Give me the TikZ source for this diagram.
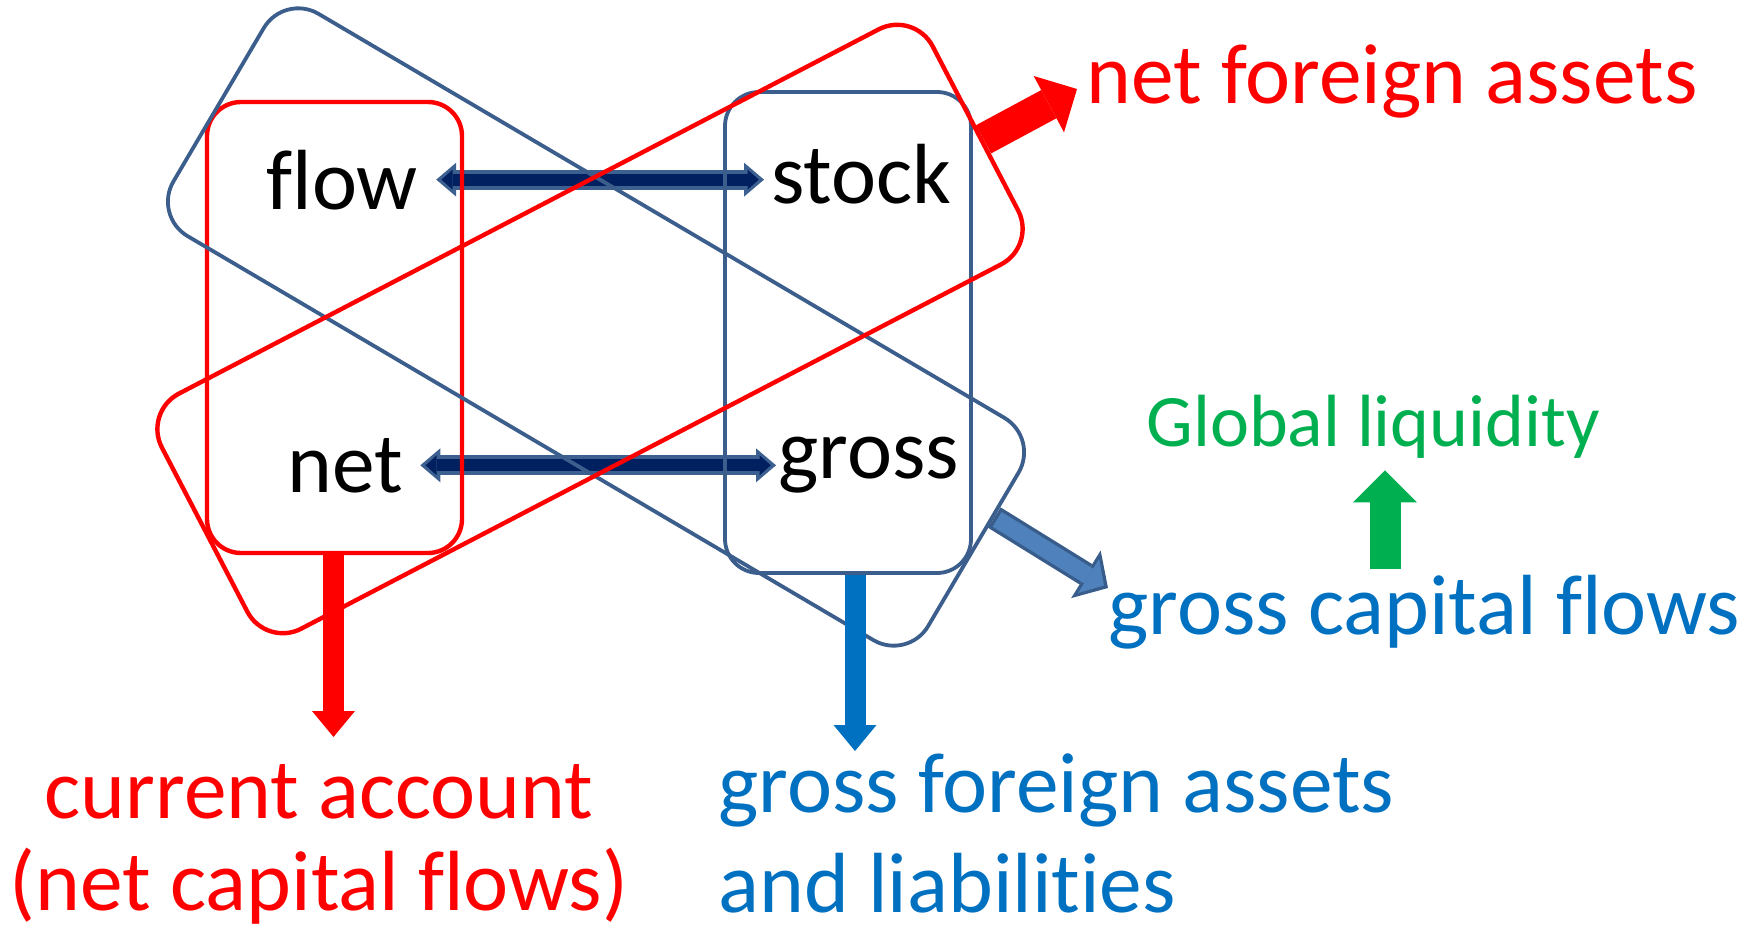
\documentclass[tikz,border=0pt]{standalone}
\usepackage{fontspec}
\setmainfont{Carlito}[Ligatures=NoCommon]
\usetikzlibrary{arrows.meta,calc}

\definecolor{boxred}{RGB}{255,0,0}
\definecolor{boxblue}{RGB}{59,94,140}
\definecolor{navy}{RGB}{0,32,96}
\definecolor{dblline}{RGB}{60,96,144}
\definecolor{txtblue}{RGB}{0,112,192}
\definecolor{liqgreen}{RGB}{0,176,80}
\definecolor{gcffill}{RGB}{79,129,189}
\definecolor{gcfline}{RGB}{56,93,138}

\begin{document}
\begin{tikzpicture}[x=0.5pt,y=0.5pt,
  colbox/.style={draw,rounded corners=17pt,inner sep=0pt},
  diagbox/.style={draw,rounded corners=20pt,inner sep=0pt},
  word/.style={anchor=base west,inner sep=0pt,font=\fontsize{42.7}{46}\selectfont},
  dblout/.style={dblline,line width=10pt,
    arrows={Triangle[length=10pt,width=17pt,line width=0pt]-Triangle[length=10pt,width=17pt,line width=0pt]}},
  dblin/.style={navy,line width=6pt,shorten <=2.6pt,shorten >=2.6pt,
    arrows={Triangle[length=5.6pt,width=10pt,line width=0pt]-Triangle[length=5.6pt,width=10pt,line width=0pt]}},
  downarrow/.style={line width=10.5pt,-{Triangle[length=13pt,width=21.5pt,line width=0pt]}},
  fatarrow/.style={line width=16pt,-{Triangle[length=16pt,width=32pt,line width=0pt]}}]

  \useasboundingbox (0,0) rectangle (1750,-931);

  % words in the boxes
  \node[word] (flow) at (266,-209) {flow};
  \node[word] (stock) at (771,-203.5) {stock};
  \node[word] (net) at (287,-492) {net};
  \node[word] (gross) at (778,-478) {gross};

  % flow <-> stock, net <-> gross
  \coordinate (fl) at ($(flow.east)+(9pt,0)$);
  \coordinate (st) at ($(flow.east -| stock.west)+(-3.5pt,0)$);
  \coordinate (nt) at ($(net.east)+(8.5pt,0)$);
  \coordinate (gr) at ($(net.east -| gross.west)+(-1pt,0)$);
  \draw[dblout] (fl) -- (st);
  \draw[dblin] (fl) -- (st);
  \draw[dblout] (nt) -- (gr);
  \draw[dblin] (nt) -- (gr);

  % the four boxes
  \node[colbox,draw=boxred,line width=2.2pt,minimum width=127.5pt,minimum height=225.5pt] (colR) at (334.5,-327.5) {};
  \node[colbox,draw=boxblue,line width=1.9pt,minimum width=123pt,minimum height=240.5pt] (colB) at (848,-332.5) {};
  \node[diagbox,draw=boxblue,line width=1.9pt,minimum width=438pt,minimum height=129pt,rotate=-30.5] (diagB) at (596,-327) {};
  \node[diagbox,draw=boxred,line width=2.2pt,minimum width=434.5pt,minimum height=132.5pt,rotate=27.5] (diagR) at (590,-329) {};

  % labels
  \node[word,boxred] (nfa) at (1086,-104) {net foreign assets};
  \node[anchor=base west,inner sep=0pt,liqgreen,font=\fontsize{37}{44}\selectfont] (liq) at (1146,-446) {Global liquidity};
  \node[word,txtblue] (gcf) at (1108,-634) {gross capital flows};
  \node[anchor=base,inner sep=0pt,boxred,align=center,font=\fontsize{42.7}{46}\selectfont] (ca) at (319,-910)
    {current account\\(net capital flows)};
  \node[anchor=base west,inner sep=0pt,txtblue,align=left,font=\fontsize{42.7}{50}\selectfont] (gfa) at (718,-912)
    {gross foreign assets\\and liabilities};

  % arrows to the labels
  \coordinate (caTip) at (333.5,-737);
  \coordinate (gfaTip) at (855,-751);
  \coordinate (nfaTip) at (1077,-89);
  \coordinate (gcfTip) at (1108,-588);
  \coordinate (liqFoot) at (1385,-569);
  \draw[downarrow,boxred] (caTip |- colR.south) -- (caTip);
  \draw[downarrow,txtblue] (gfaTip |- colB.south) -- (gfaTip);
  \draw[fatarrow,boxred] ($(diagR.east)!0.1!(diagR.south east)$) -- (nfaTip);
  \draw[gcfline,line width=12pt,-{Triangle[length=13pt,width=28pt,line width=0pt]}]
    ($(diagB.east)!0.29!(diagB.north east)$) coordinate (gcfStart) -- (gcfTip);
  \draw[gcffill,line width=8.6pt,shorten <=1.7pt,shorten >=2.4pt,-{Triangle[length=9pt,width=20pt,line width=0pt]}]
    (gcfStart) -- (gcfTip);
  \draw[fatarrow,liqgreen,line width=15.5pt,shorten >=6pt] (liqFoot) -- (liqFoot |- liq.south);

\end{tikzpicture}
\end{document}
